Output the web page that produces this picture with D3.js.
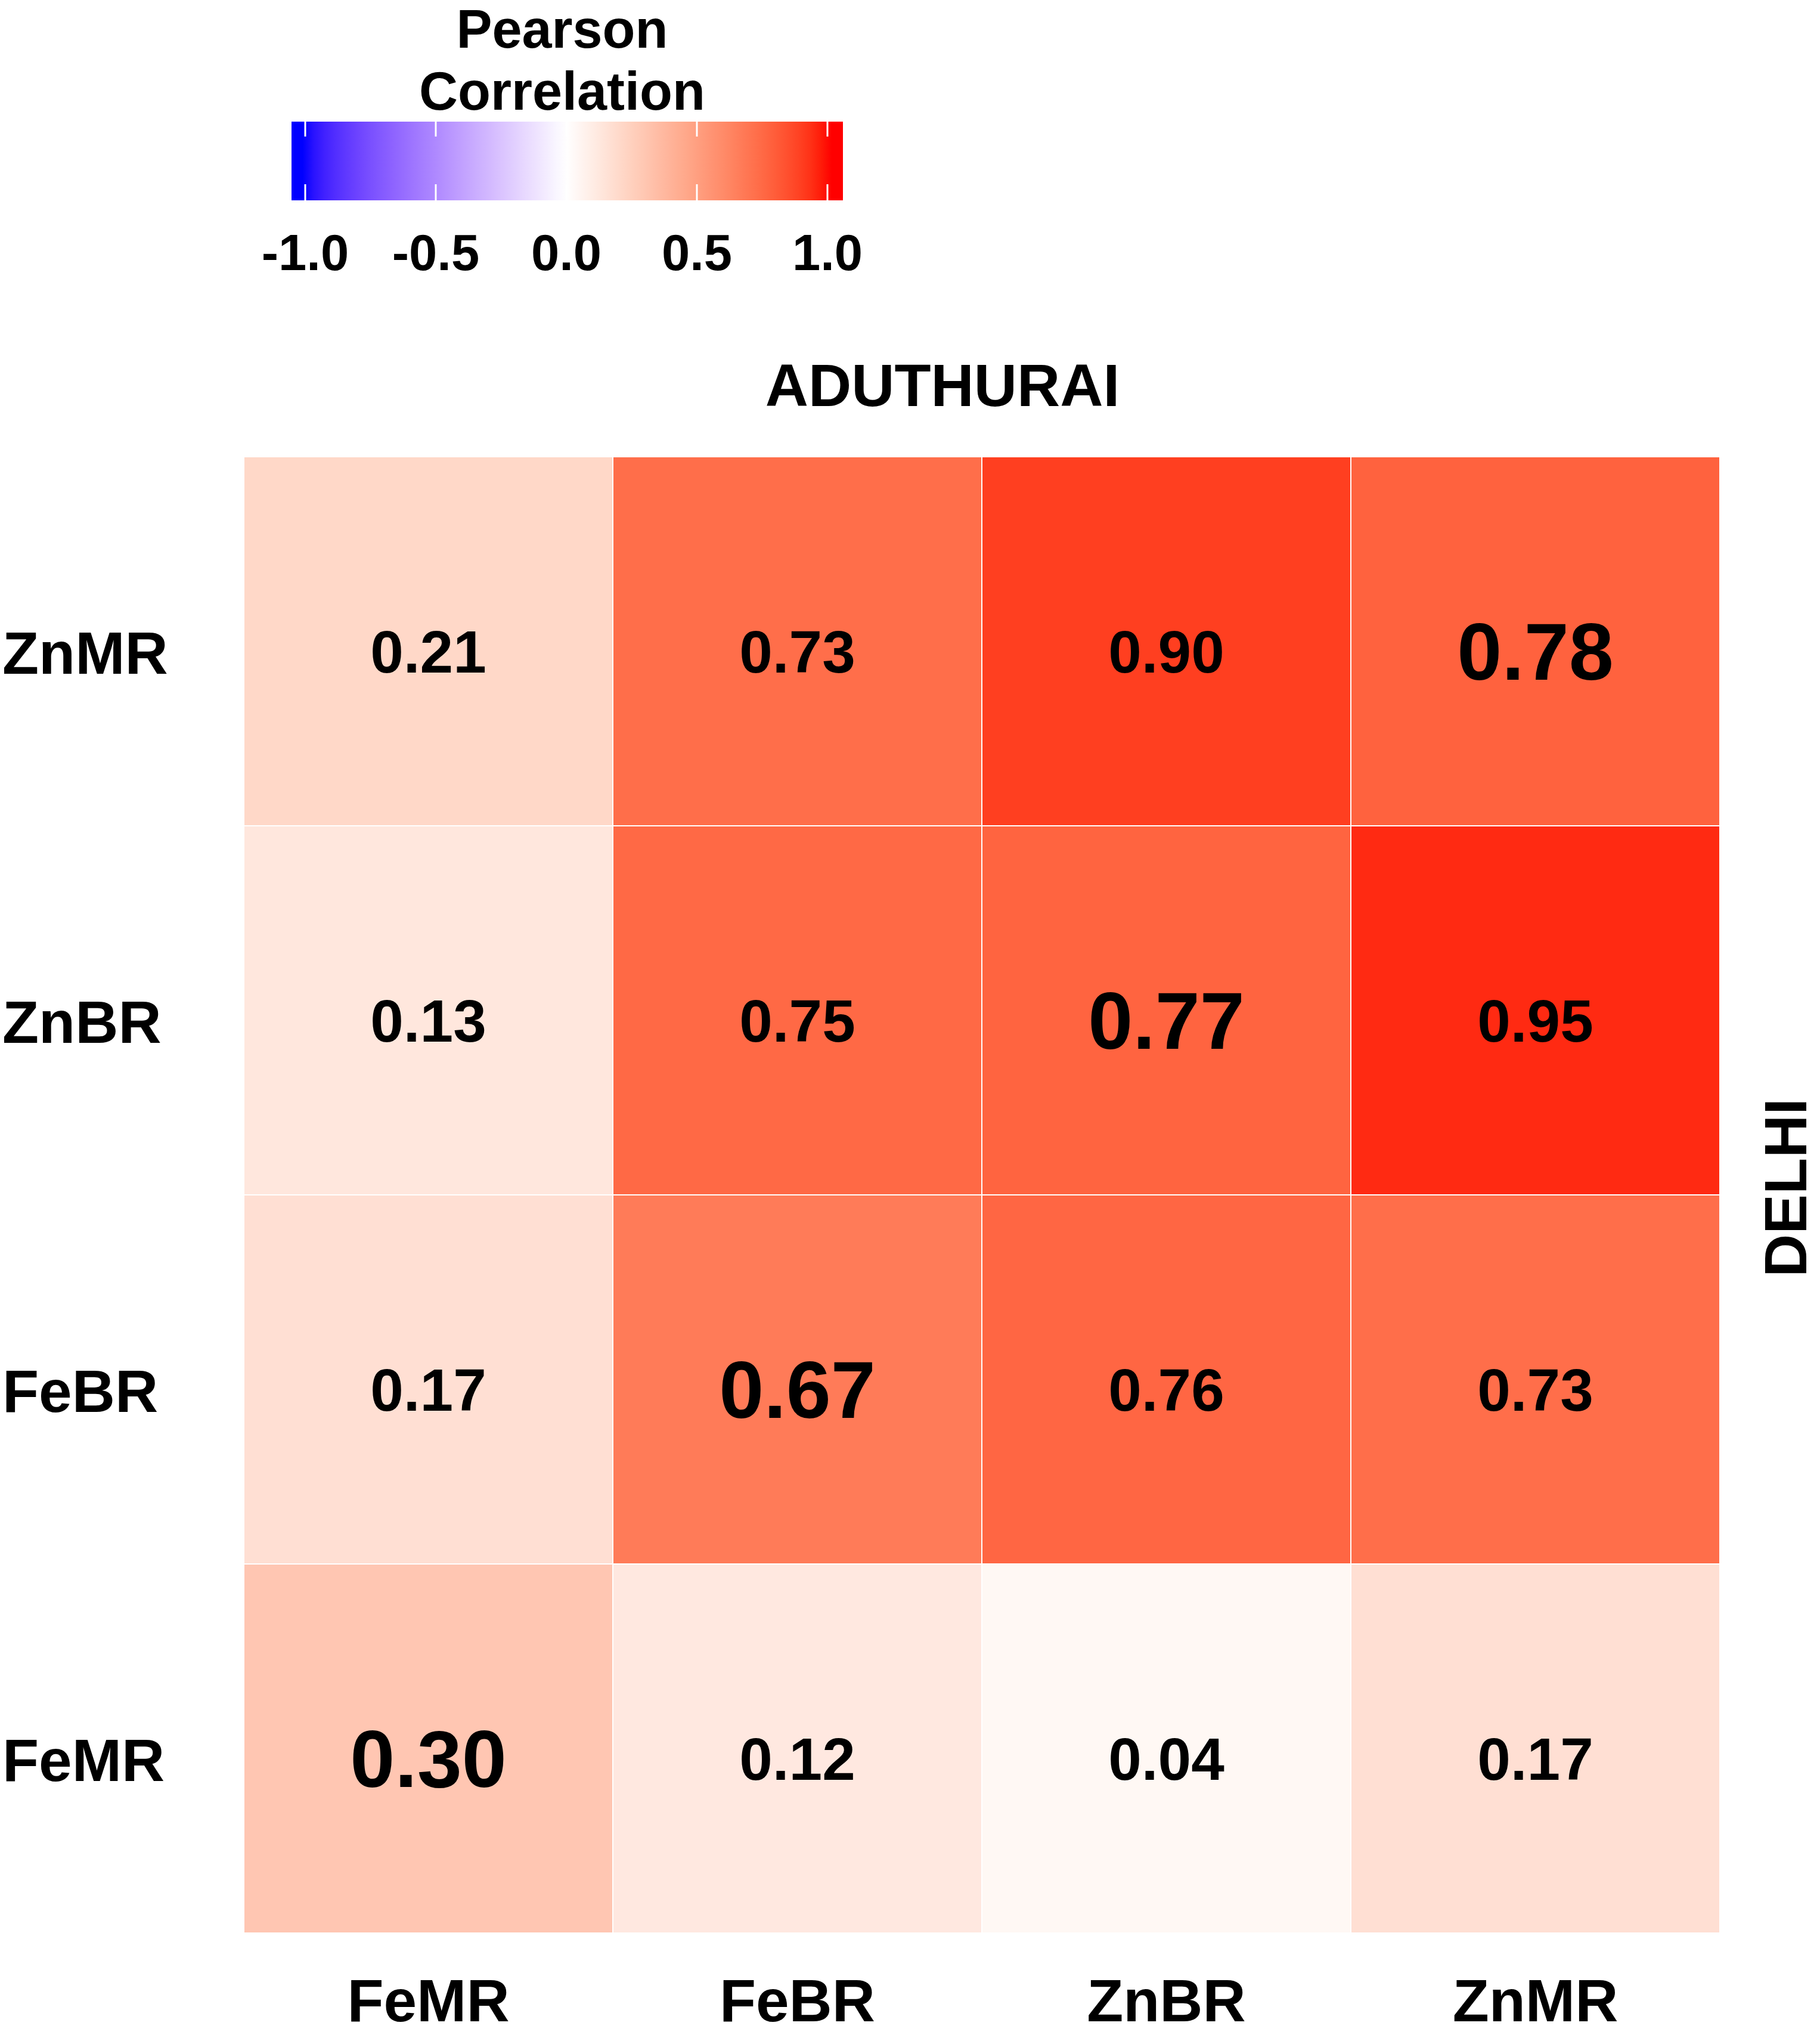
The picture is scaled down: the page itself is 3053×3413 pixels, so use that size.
<!DOCTYPE html>
<html>
<head>
<meta charset="utf-8">
<script src="https://cdn.jsdelivr.net/npm/d3@7"></script>
<style>
  body { margin: 0; background: #fff; }
  svg text { font-family: "Liberation Sans", Arial, sans-serif; font-weight: bold; fill: #000; }
</style>
</head>
<body>
<div id="chart"></div>
<script>
// columns (ADUTHURAI) and rows (DELHI), top to bottom
const colNames = ["FeMR", "FeBR", "ZnBR", "ZnMR"];
const rowNames = ["ZnMR", "ZnBR", "FeBR", "FeMR"];

// correlation values, one array per row
const rowZnMR = [0.21, 0.73, 0.90, 0.78];
const rowZnBR = [0.13, 0.75, 0.77, 0.95];
const rowFeBR = [0.17, 0.67, 0.76, 0.73];
const rowFeMR = [0.30, 0.12, 0.04, 0.17];
const matrix = [rowZnMR, rowZnBR, rowFeBR, rowFeMR];

const legendTicks = [-1.0, -0.5, 0.0, 0.5, 1.0];

const W = 3053, H = 3413;
const grid = { left: 409, right: 2885, top: 766, bottom: 3242 };

const svg = d3.select("#chart")
    .append("svg")
    .attr("width", W)
    .attr("height", H);

const x = d3.scaleBand()
    .domain(colNames)
    .range([grid.left, grid.right]);

const y = d3.scaleBand()
    .domain(rowNames)
    .range([grid.top, grid.bottom]);

const color = d3.scaleLinear()
    .domain([-1, 0, 1])
    .range(["blue", "white", "red"])
    .interpolate(d3.interpolateLab)
    .clamp(true);

let cells = [];
matrix.forEach((vals, i) => {
    vals.forEach((v, j) => {
        cells.push({ row: rowNames[i], col: colNames[j], value: v });
    });
});

const cellGroup = svg.append("g");

cellGroup.selectAll("rect")
    .data(cells)
    .enter()
    .append("rect")
    .attr("x", d => x(d.col))
    .attr("y", d => y(d.row))
    .attr("width", x.bandwidth())
    .attr("height", y.bandwidth())
    .attr("fill", d => color(d.value))
    .attr("stroke", "#fff")
    .attr("stroke-width", 2);

// value labels, diagonal (same variable) is bigger
const fontSize = d => d.row === d.col ? 135 : 100;
cellGroup.selectAll("text")
    .data(cells)
    .enter()
    .append("text")
    .attr("x", d => x(d.col) + x.bandwidth() / 2)
    .attr("y", d => y(d.row) + y.bandwidth() / 2 + 16 + 0.36 * fontSize(d))
    .attr("text-anchor", "middle")
    .attr("font-size", d => fontSize(d))
    .text(d => d3.format(".2f")(d.value));

// row labels on the left
svg.append("g")
    .selectAll("text")
    .data(rowNames)
    .enter()
    .append("text")
    .attr("x", 4)
    .attr("y", d => y(d) + y.bandwidth() / 2 + 54)
    .attr("font-size", 100)
    .text(d => d);

// column labels at the bottom
svg.append("g")
    .selectAll("text")
    .data(colNames)
    .enter()
    .append("text")
    .attr("x", d => x(d) + x.bandwidth() / 2)
    .attr("y", 3390)
    .attr("text-anchor", "middle")
    .attr("font-size", 100)
    .text(d => d);

// group titles
svg.append("text")
    .attr("x", 1581)
    .attr("y", 681)
    .attr("text-anchor", "middle")
    .attr("font-size", 100)
    .text("ADUTHURAI");

svg.append("text")
    .attr("transform", "translate(3030,1992) rotate(-90)")
    .attr("text-anchor", "middle")
    .attr("font-size", 100)
    .text("DELHI");

// colour legend
const lx = d3.scaleLinear()
    .domain([-1, 1])
    .range([512, 1388]);

const bar = { x0: 489, x1: 1414, y0: 204, y1: 336 };

const grad = svg.append("defs")
    .append("linearGradient")
    .attr("id", "corrGrad")
    .attr("gradientUnits", "userSpaceOnUse")
    .attr("x1", bar.x0).attr("x2", bar.x1)
    .attr("y1", 0).attr("y2", 0);

d3.range(0, 1.0001, 0.02).forEach(t => {
    const v = lx.invert(bar.x0 + t * (bar.x1 - bar.x0));
    grad.append("stop")
        .attr("offset", t)
        .attr("stop-color", color(v));
});

const legend = svg.append("g");

legend.append("rect")
    .attr("x", bar.x0)
    .attr("y", bar.y0)
    .attr("width", bar.x1 - bar.x0)
    .attr("height", bar.y1 - bar.y0)
    .attr("fill", "url(#corrGrad)");

legend.selectAll("line.top")
    .data(legendTicks)
    .enter()
    .append("line")
    .attr("class", "top")
    .attr("x1", d => lx(d)).attr("x2", d => lx(d))
    .attr("y1", bar.y0).attr("y2", bar.y0 + 25)
    .attr("stroke", "#fff")
    .attr("stroke-width", 3);

legend.selectAll("line.bottom")
    .data(legendTicks)
    .enter()
    .append("line")
    .attr("class", "bottom")
    .attr("x1", d => lx(d)).attr("x2", d => lx(d))
    .attr("y1", bar.y1 - 27).attr("y2", bar.y1)
    .attr("stroke", "#fff")
    .attr("stroke-width", 3);

legend.selectAll("text.tick")
    .data(legendTicks)
    .enter()
    .append("text")
    .attr("class", "tick")
    .attr("x", d => lx(d))
    .attr("y", 453)
    .attr("text-anchor", "middle")
    .attr("font-size", 85)
    .text(d => d3.format(".1f")(d).replace("−", "-"));

legend.append("text")
    .attr("x", 943)
    .attr("y", 80)
    .attr("text-anchor", "middle")
    .attr("font-size", 90)
    .text("Pearson");

legend.append("text")
    .attr("x", 943)
    .attr("y", 184)
    .attr("text-anchor", "middle")
    .attr("font-size", 90)
    .text("Correlation");
</script>
</body>
</html>
